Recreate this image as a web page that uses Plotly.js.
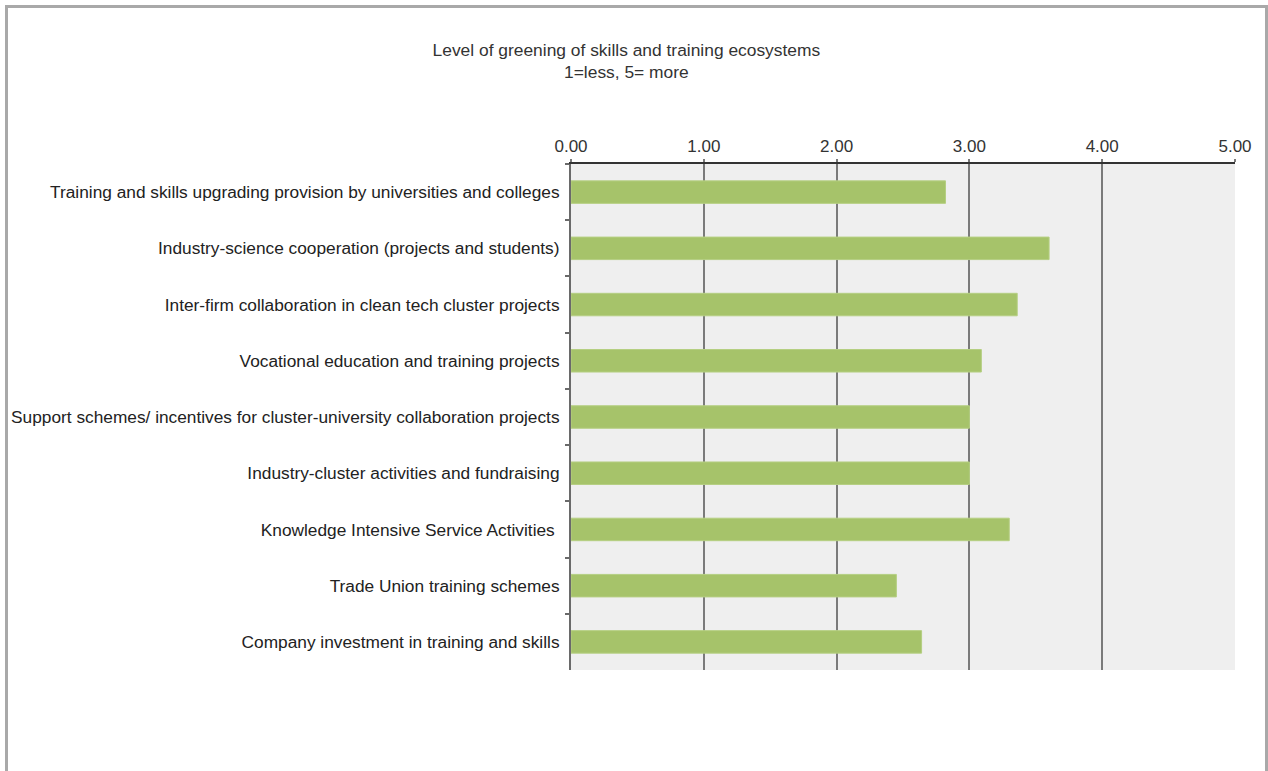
<!DOCTYPE html>
<html>
<head>
<meta charset="utf-8">
<script src="https://cdn.plot.ly/plotly-3.0.1.min.js"></script>
<style>
  html, body { margin: 0; padding: 0; background: #fff; overflow: hidden; }
  #chart { position: absolute; left: 0; top: 0; width: 1268px; height: 771px; }
  #frame { position: absolute; left: 5px; top: 5px; width: 1257px; height: 780px;
           border: 3px solid #a9a9a9; border-bottom: none; pointer-events: none; }
</style>
</head>
<body>
<div id="chart"></div>
<div id="frame"></div>
<script>
const categories = [
  "Training and skills upgrading provision by universities and colleges",
  "Industry-science cooperation (projects and students)",
  "Inter-firm collaboration in clean tech cluster projects",
  "Vocational education and training projects",
  "Support schemes/ incentives for cluster-university collaboration projects",
  "Industry-cluster activities and fundraising",
  "Knowledge Intensive Service Activities ",
  "Trade Union training schemes",
  "Company investment in training and skills"
];
const values = [2.82, 3.60, 3.36, 3.09, 3.00, 3.00, 3.30, 2.45, 2.64];
const tickValues = [0, 1, 2, 3, 4, 5];
const tickLabels = ["0.00", "1.00", "2.00", "3.00", "4.00", "5.00"];

const trace = {
  type: 'bar',
  orientation: 'h',
  x: values,
  y: categories,
  width: 0.4,
  marker: { color: '#a6c36a', line: { color: '#b5cf82', width: 1 } },
  hoverinfo: 'x+y'
};

const layout = {
  width: 1268,
  height: 771,
  margin: { l: 571, r: 33, t: 164, b: 101 },
  paper_bgcolor: 'rgba(0,0,0,0)',
  plot_bgcolor: '#efefef',
  showlegend: false,
  font: { family: '"Liberation Sans", Arial, sans-serif', size: 17, color: '#333' },
  title: {
    text: 'Level of greening of skills and training ecosystems<br>1=less, 5= more',
    font: { size: 17.4, color: '#333' },
    x: 0.494, xanchor: 'center',
    yref: 'container',
    y: 0.928, yanchor: 'top'
  },
  xaxis: {
    side: 'top',
    range: [0, 5],
    tickvals: tickValues,
    ticktext: tickLabels,
    showgrid: true,
    gridcolor: '#7a7a7a',
    gridwidth: 2,
    zeroline: false,
    showline: true,
    linecolor: '#333',
    linewidth: 2,
    ticks: 'outside',
    ticklen: 3,
    tickwidth: 2,
    tickcolor: '#7a7a7a',
    tickfont: { size: 17, color: '#333' },
    fixedrange: true
  },
  yaxis: {
    type: 'category',
    autorange: 'reversed',
    showline: true,
    linecolor: '#6a6a6a',
    linewidth: 2,
    ticks: 'outside',
    tickson: 'boundaries',
    ticklen: 4,
    tickwidth: 2,
    tickcolor: '#6a6a6a',
    showgrid: false,
    ticklabelstandoff: 6,
    tickfont: { size: 17.3, color: '#222' },
    fixedrange: true
  },
  bargap: 0.6
};

Plotly.newPlot('chart', [trace], layout, { displayModeBar: false, staticPlot: true });
</script>
</body>
</html>
